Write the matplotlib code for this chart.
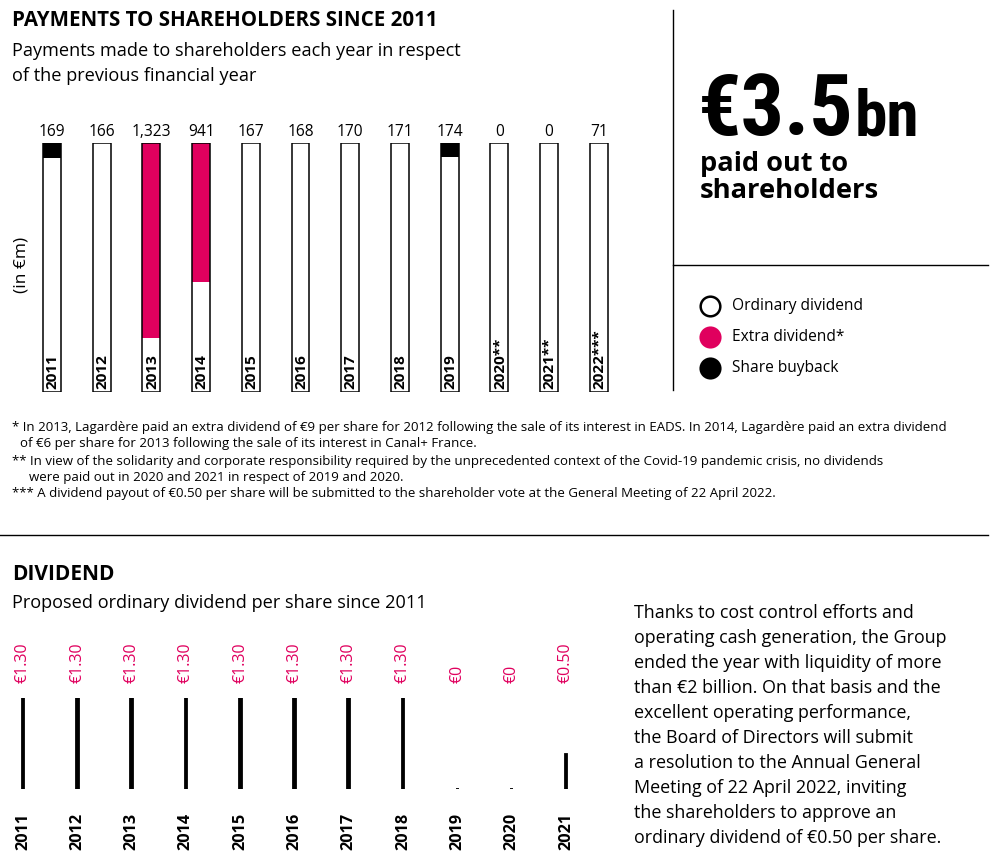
import numpy as np
import matplotlib
matplotlib.use("Agg")
from matplotlib import pyplot as plt

plt.rcParams['font.family'] = ['Open Sans', 'DejaVu Sans']

PINK = '#e0005e'

# payments to shareholders (in EUR m)
pay_years = ['2011', '2012', '2013', '2014', '2015', '2016', '2017', '2018', '2019',
             '2020**', '2021**', '2022***']
pay_total = [169, 166, 1323, 941, 167, 168, 170, 171, 174, 0, 0, 71]
pay_extra = [0, 0, 1035, 527, 0, 0, 0, 0, 0, 0, 0, 0]
pay_buyback = [10, 0, 0, 0, 0, 0, 0, 0, 10, 0, 0, 0]
pay_labels = ['169', '166', '1,323', '941', '167', '168', '170', '171', '174', '0', '0', '71']

# ordinary dividend per share
div_years = ['2011', '2012', '2013', '2014', '2015', '2016', '2017', '2018', '2019', '2020', '2021']
div_values = [1.30, 1.30, 1.30, 1.30, 1.30, 1.30, 1.30, 1.30, 0.0, 0.0, 0.50]
div_labels = ['€1.30', '€1.30', '€1.30', '€1.30', '€1.30', '€1.30', '€1.30', '€1.30',
              '€0', '€0', '€0.50']

footnotes = [
    (12, 428, "* In 2013, Lagardère paid an extra dividend of €9 per share for 2012 following the sale of its interest in EADS. In 2014, Lagardère paid an extra dividend"),
    (20, 444, "of €6 per share for 2013 following the sale of its interest in Canal+ France."),
    (12, 461, "** In view of the solidarity and corporate responsibility required by the unprecedented context of the Covid-19 pandemic crisis, no dividends"),
    (29, 477, "were paid out in 2020 and 2021 in respect of 2019 and 2020."),
    (12, 493, "*** A dividend payout of €0.50 per share will be submitted to the shareholder vote at the General Meeting of 22 April 2022."),
]

paragraph = [
    "Thanks to cost control efforts and",
    "operating cash generation, the Group",
    "ended the year with liquidity of more",
    "than €2 billion. On that basis and the",
    "excellent operating performance,",
    "the Board of Directors will submit",
    "a resolution to the Annual General",
    "Meeting of 22 April 2022, inviting",
    "the shareholders to approve an",
    "ordinary dividend of €0.50 per share.",
]

W, H = 1000, 860
fig = plt.figure(figsize=(W / 100, H / 100), dpi=100)

# overlay in pixel coords for texts and rules
ov = fig.add_axes([0, 0, 1, 1])
ov.set_xlim(0, W)
ov.set_ylim(H, 0)
ov.axis('off')

ov.text(12, 20, "PAYMENTS TO SHAREHOLDERS SINCE 2011", fontsize=14.8, fontweight='bold', va='center')
ov.text(12, 51, "Payments made to shareholders each year in respect", fontsize=13.1, va='center')
ov.text(12, 76, "of the previous financial year", fontsize=13.1, va='center')
ov.text(22, 265, "(in €m)", fontsize=12.5, rotation=90, va='center', ha='center')

for x, y, t in footnotes:
    ov.text(x, y, t, fontsize=9.5, va='center')

ov.plot([673, 673], [10, 390], color='black', lw=1)
ov.plot([673, 988], [265, 265], color='black', lw=1)
ov.plot([0, 988], [535, 535], color='black', lw=1)

big = ['Roboto Condensed', 'DejaVu Sans']
t_big = ov.text(698, 135, "€3.5", fontsize=62, fontweight='bold', va='baseline', family=big,
                fontstretch='condensed')
fig.canvas.draw()
bb = t_big.get_window_extent()
ov.text(bb.x1 + 1, 135, "bn", fontsize=47, fontweight='bold', va='baseline', family=big,
        fontstretch='condensed')
ov.text(700, 164, "paid out to", fontsize=19.5, fontweight='bold', va='center')
ov.text(700, 191, "shareholders", fontsize=19.7, fontweight='bold', va='center')

leg = [('white', 'Ordinary dividend'), (PINK, 'Extra dividend*'), ('black', 'Share buyback')]
for k, (c, t) in enumerate(leg):
    y = 306 + k * 31
    ov.scatter([710], [y], s=200, facecolor=c, edgecolor='black' if c == 'white' else c, lw=1.8)
    ov.text(732, y, t, fontsize=11.2, va='center')

ov.text(12, 575, "DIVIDEND", fontsize=15, fontweight='bold', va='center')
ov.text(12, 603, "Proposed ordinary dividend per share since 2011", fontsize=13.1, va='center')

for k, t in enumerate(paragraph):
    ov.text(634, 613 + k * 25, t, fontsize=12.9, va='center')

# top chart: stacked shares of each year's payout
step = 49.7
ax = fig.add_axes([(52 - 0.5 * step) / W, 1 - 392 / H, 12 * step / W, 249 / H])
x = np.arange(len(pay_years))
tot = np.array(pay_total, dtype=float)
extra = np.array(pay_extra, dtype=float)
buy = np.array(pay_buyback, dtype=float)
safe = np.where(tot > 0, tot, 1)
s_buy = buy / safe
s_extra = extra / safe
bw = 0.36
ax.bar(x, np.ones(len(x)), width=bw, color='white', edgecolor='none')
ax.bar(x, s_extra, bottom=1 - s_buy - s_extra, width=bw, color=PINK, edgecolor='none')
ax.bar(x, s_buy, bottom=1 - s_buy, width=bw, color='black', edgecolor='none')
ax.bar(x, np.ones(len(x)), width=bw, color='none', edgecolor='black', lw=1.1)
for i in x:
    ax.annotate(pay_labels[i], (i, 1), xytext=(0, 2), textcoords='offset points',
                ha='center', va='bottom', fontsize=11.2, annotation_clip=False)
    ax.annotate(pay_years[i], (i, 0), xytext=(0.5, 2), textcoords='offset points',
                ha='center', va='bottom', rotation=90, fontsize=11, fontweight='bold')
ax.set_xlim(-0.5, 11.5)
ax.set_ylim(0, 1)
ax.axis('off')

# bottom chart: dividend per share
step2 = 54.3
ax2 = fig.add_axes([(23 - 0.3 * step2) / W, 1 - 789 / H, 10.8 * step2 / W, 91 / H])
x2 = np.arange(len(div_years))
ax2.bar(x2, div_values, width=0.05, color='black', edgecolor='black', lw=1.3)
for i in x2:
    ax2.annotate(div_labels[i], (i, 1), xycoords=('data', 'axes fraction'), xytext=(0, 11),
                 textcoords='offset points', ha='center', va='bottom', rotation=90,
                 fontsize=11.5, color=PINK, annotation_clip=False)
    ax2.annotate(div_years[i], (i, 0), xycoords=('data', 'axes fraction'), xytext=(0, -17),
                 textcoords='offset points', ha='center', va='top', rotation=90,
                 fontsize=11.7, fontweight='bold', annotation_clip=False)
ax2.set_xlim(-0.3, 10.5)
ax2.set_ylim(0, 1.3)
ax2.axis('off')

fig.savefig('out.png', dpi=100)
